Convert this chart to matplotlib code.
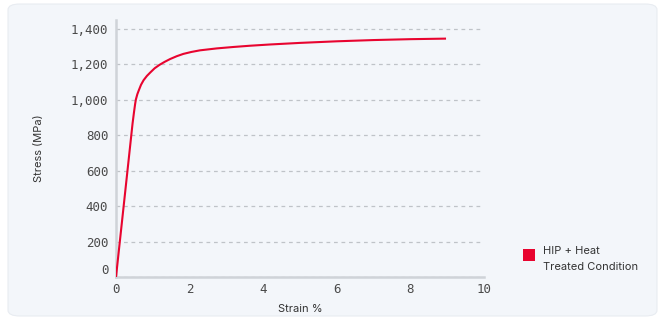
import numpy as np
import matplotlib; matplotlib.use('Agg')
import matplotlib.pyplot as plt
from matplotlib.patches import FancyBboxPatch

# stress-strain curve
strain = [0.0, 0.25, 0.45, 0.49, 0.52, 0.54, 0.58, 0.62, 0.68, 0.75, 0.84,
          0.93, 1.05, 1.18, 1.32, 1.47, 1.65, 1.83, 2.05, 2.28, 2.74, 3.19,
          3.64, 4.18, 5.0, 6.0, 7.0, 8.0, 8.94]
stress = [0, 480, 865, 930, 975, 1000, 1030, 1052, 1083, 1109, 1133,
          1152, 1176, 1195, 1212, 1228, 1244, 1257, 1268, 1277, 1288, 1296,
          1303, 1310, 1319, 1328, 1335, 1340, 1343]
series_label = 'HIP + Heat\nTreated Condition'
yticks = [0, 200, 400, 600, 800, 1000, 1200, 1400]
xticks = [0, 2, 4, 6, 8, 10]

RED = '#e8042f'
BG = '#f3f6fa'
MONO = 'DejaVu Sans Mono'
SANS = 'Inter'

fig = plt.figure(figsize=(6.65, 3.2), dpi=100)
fig.patch.set_facecolor('white')
card = FancyBboxPatch((8 / 665, 4 / 320), 649 / 665, 312 / 320,
                      boxstyle='round,pad=0,rounding_size=0.018',
                      transform=fig.transFigure, facecolor=BG,
                      edgecolor='#e8ecf1', lw=0.8, zorder=-10)
fig.patches.append(card)

ax = fig.add_axes([116 / 665, 1 - 277 / 320, 368 / 665, 257 / 320])
ax.set_zorder(1)
ax.set_facecolor(BG)
ax.plot(strain, stress, color=RED, lw=1.5, solid_joinstyle='round', zorder=3)

ax.set_xlim(0, 10)
ax.set_ylim(0, 1448)
ax.set_xticks(xticks)
ax.set_yticks(yticks)
ax.set_xticklabels([str(v) for v in xticks], fontfamily=MONO, fontsize=9, color='#4a4a4a')
ax.set_yticklabels([f'{v:,}' for v in yticks], fontfamily=MONO, fontsize=9, color='#4a4a4a')
ax.get_yticklabels()[0].set_va('bottom')
ax.tick_params(axis='y', length=0, pad=5.5)
ax.tick_params(axis='x', length=0, pad=4)

ax.yaxis.grid(True, ls=(0, (3, 3)), color='#bfc3c8', lw=0.9)
ax.xaxis.grid(False)
ax.set_axisbelow(True)
for s in ['top', 'right']:
    ax.spines[s].set_visible(False)
for s in ['left', 'bottom']:
    ax.spines[s].set_color('#cfd3d8')
    ax.spines[s].set_linewidth(1.8)

ax.set_xlabel('Strain %', fontfamily=SANS, fontsize=8, color='#333333', labelpad=6)
ax.set_ylabel('Stress (MPa)', fontfamily=SANS, fontsize=8, color='#333333', labelpad=19)

# legend
fig.patches.append(plt.Rectangle((523 / 665, 1 - 261 / 320), 12 / 665, 12 / 320,
                                 transform=fig.transFigure, facecolor=RED, edgecolor='none'))
fig.text(543 / 665, 1 - 259 / 320, series_label, fontfamily=SANS, fontsize=8,
         color='#333333', va='center', ha='left', linespacing=1.7)

fig.savefig('out.png', dpi=100, facecolor='white')
